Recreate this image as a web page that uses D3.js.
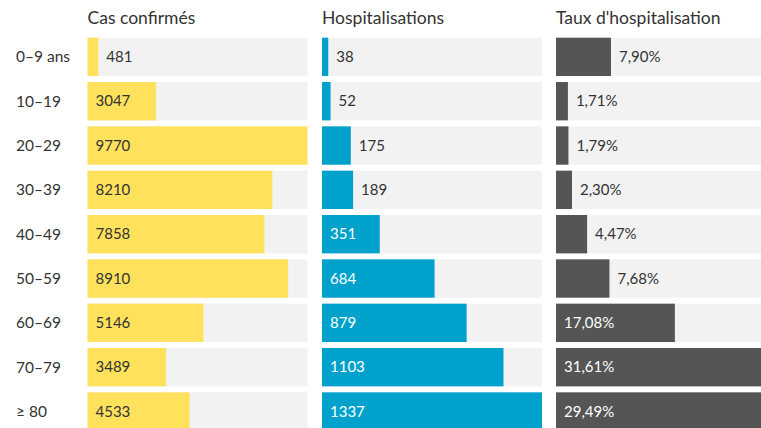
<!DOCTYPE html>
<meta charset="utf-8">
<script src="https://d3js.org/d3.v7.min.js"></script>
<html>
<head>
<style>
body { margin: 0; background: #fff; }
text { font-family: Lato, "Noto Sans", sans-serif; }
</style>
</head>
<body>
<svg id="chart" width="761" height="428"></svg>
<script>

// data
var ages = ["0–9 ans", "10–19", "20–29", "30–39", "40–49", "50–59", "60–69", "70–79", "≥ 80"];
var cases = [481, 3047, 9770, 8210, 7858, 8910, 5146, 3489, 4533];
var hosp = [38, 52, 175, 189, 351, 684, 879, 1103, 1337];
var rate = [7.90, 1.71, 1.79, 2.30, 4.47, 7.68, 17.08, 31.61, 29.49];
var titles = ["Cas confirmés", "Hospitalisations", "Taux d'hospitalisation"];

var svg = d3.select("#chart");

var colW = 220,
    colX = [87.5, 322, 556],
    rowTop = 37.7,
    step = 44.33,
    pad = 0.135;

var y = d3.scaleBand()
    .domain(ages)
    .range([rowTop, rowTop + step * (ages.length - pad)])
    .paddingInner(pad)
    .paddingOuter(0);

var columns = [
  { title: titles[0], values: cases, color: "#ffe15c", inText: "#333", fmt: function(d){ return d; } },
  { title: titles[1], values: hosp, color: "#00a2cc", inText: "#fff", fmt: function(d){ return d; } },
  { title: titles[2], values: rate, color: "#555555", inText: "#fff", fmt: function(d){ return d.toFixed(2).replace(".", ",") + "%"; } }
];

// row labels
svg.append("g")
  .selectAll("text")
  .data(ages)
  .enter()
  .append("text")
    .attr("x", 16)
    .attr("y", function(d){ return y(d) + y.bandwidth() / 2; })
    .attr("dy", "0.35em")
    .attr("font-size", 15.5)
    .attr("fill", "#333")
    .text(function(d){ return d; });

columns.forEach(function(col, ci) {
  var x = d3.scaleLinear()
      .domain([0, d3.max(col.values)])
      .range([0, colW]);

  var g = svg.append("g").attr("transform", "translate(" + colX[ci] + ",0)");

  g.append("text")
    .attr("x", 0)
    .attr("y", 24)
    .attr("font-size", 17.5)
    .attr("fill", "#333")
    .text(col.title);

  var rows = g.selectAll("g.row")
    .data(col.values)
    .enter()
    .append("g")
      .attr("transform", function(d, i){ return "translate(0," + y(ages[i]) + ")"; });

  rows.append("rect")
    .attr("width", colW)
    .attr("height", y.bandwidth())
    .attr("fill", "#f2f2f2");

  rows.append("rect")
    .attr("width", function(d){ return x(d); })
    .attr("height", y.bandwidth())
    .attr("fill", col.color);

  rows.append("text")
    .attr("y", y.bandwidth() / 2)
    .attr("dy", "0.35em")
    .attr("font-size", 15)
    .text(col.fmt)
    .each(function(d) {
      var t = d3.select(this);
      var w = this.getComputedTextLength();
      if (w + 16 <= x(d)) {
        t.attr("x", 8).attr("fill", col.inText);
      } else {
        t.attr("x", x(d) + 8).attr("fill", "#333");
      }
    });
});

</script>
</body>
</html>
